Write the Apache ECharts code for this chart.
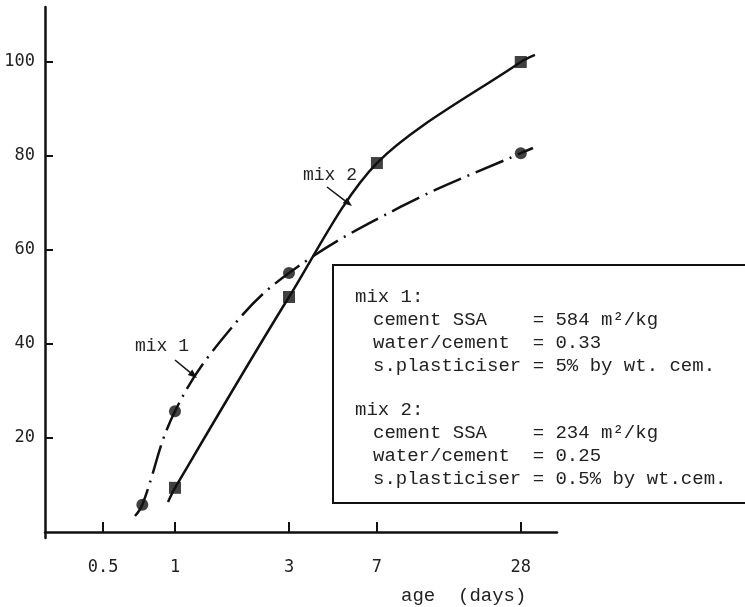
<!DOCTYPE html>
<html>
<head>
<meta charset="utf-8">
<style>
  html, body { margin: 0; padding: 0; background: #fff; }
  #chart { width: 745px; height: 607px; }
</style>
<script src="https://cdn.jsdelivr.net/npm/echarts@6/dist/echarts.min.js"></script>
</head>
<body>
<div id="chart"></div>
<script>
// Tick values
const ageTicks = [0.5, 1, 3, 7, 28];
const strengthTicks = [20, 40, 60, 80, 100];

// Measured points (age in days, relative strength)
const mix1Days = [0.73, 1, 3, 28];
const mix1Strength = [5.8, 25.7, 55.1, 80.6];
const mix2Days = [1, 3, 7, 28];
const mix2Strength = [9.4, 50.0, 78.5, 100];

// Hand-drawn fitted curves through the points
const mix1CurveDays = [0.68, 0.73, 1, 1.67, 3, 8.74, 28, 31.5];
const mix1CurveStrength = [3.4, 5.8, 25.7, 42.6, 55.1, 69.1, 80.6, 81.7];
const mix2CurveDays = [0.935, 1, 3, 7, 28, 32.1];
const mix2CurveStrength = [6.4, 9.4, 50.0, 78.5, 100, 101.5];

// Key text
const mix1Header = 'mix 1:';
const mix2Header = 'mix 2:';
const mix1Lines = ['cement SSA    = 584 m²/kg', 'water/cement  = 0.33', 's.plasticiser = 5% by wt. cem.'];
const mix2Lines = ['cement SSA    = 234 m²/kg', 'water/cement  = 0.25', 's.plasticiser = 0.5% by wt.cem.'];

const ink = '#111';
const mono = '"Liberation Mono", "DejaVu Sans Mono", monospace';
const sansMono = '"DejaVu Sans Mono", monospace';

const zip = (xs, ys) => xs.map((x, i) => [x, ys[i]]);

function arrow(x1, y1, x2, y2) {
  const ang = Math.atan2(y2 - y1, x2 - x1);
  const len = 9, half = 3.5;
  const bx = x2 - len * Math.cos(ang), by = y2 - len * Math.sin(ang);
  const px = -Math.sin(ang) * half, py = Math.cos(ang) * half;
  return [
    { type: 'line', shape: { x1, y1, x2: bx, y2: by }, style: { stroke: ink, lineWidth: 1.5 } },
    { type: 'polygon', shape: { points: [[x2, y2], [bx + px, by + py], [bx - px, by - py]] },
      style: { fill: ink } }
  ];
}

function keyBlock(header, lines, top) {
  const items = [{
    type: 'text', left: 355, top: top - 10,
    style: { text: header, font: '19px ' + mono, fill: '#222' }
  }];
  lines.forEach((line, i) => {
    items.push({
      type: 'text', left: 373, top: top + 23 * (i + 1) - 10,
      style: { text: line, font: '19px ' + mono, fill: '#222' }
    });
  });
  return items;
}

const chart = echarts.init(document.getElementById('chart'));

chart.setOption({
  backgroundColor: '#fff',
  animation: false,
  grid: { left: 45, right: 188, top: 7, bottom: 69 },
  xAxis: {
    type: 'log',
    logBase: 10,
    min: 0.2857,
    max: 39.7,
    axisLine: { lineStyle: { color: ink, width: 2.5 } },
    axisTick: { inside: true, length: 10, customValues: ageTicks, lineStyle: { color: ink, width: 2 } },
    minorTick: { show: false },
    axisLabel: {
      customValues: ageTicks,
      margin: 21,
      color: '#222',
      fontFamily: sansMono,
      fontSize: 17,
      formatter: v => String(v)
    },
    splitLine: { show: false }
  },
  yAxis: {
    type: 'value',
    min: -1.28,
    max: 111.7,
    axisLine: { show: true, lineStyle: { color: ink, width: 2.5 } },
    axisTick: { show: true, inside: true, length: 8, customValues: strengthTicks, lineStyle: { color: ink, width: 2 } },
    axisLabel: {
      customValues: strengthTicks,
      margin: 10,
      color: '#222',
      fontFamily: sansMono,
      fontSize: 17
    },
    splitLine: { show: false }
  },
  series: [
    {
      name: 'mix 1 curve',
      type: 'line',
      data: zip(mix1CurveDays, mix1CurveStrength),
      smooth: 0.4,
      symbol: 'none',
      lineStyle: { color: ink, width: 2.5, type: [30, 7, 2, 7] },
      z: 2
    },
    {
      name: 'mix 2 curve',
      type: 'line',
      data: zip(mix2CurveDays, mix2CurveStrength),
      smooth: 0.3,
      symbol: 'none',
      lineStyle: { color: ink, width: 2.5 },
      z: 2
    },
    {
      name: 'mix 1',
      type: 'scatter',
      data: zip(mix1Days, mix1Strength),
      symbol: 'circle',
      symbolSize: 12,
      itemStyle: { color: ink },
      z: 3
    },
    {
      name: 'mix 2',
      type: 'scatter',
      data: zip(mix2Days, mix2Strength),
      symbol: 'rect',
      symbolSize: 12,
      itemStyle: { color: ink },
      z: 3
    }
  ],
  graphic: [
    { type: 'text', left: 135, top: 337, style: { text: 'mix 1', font: '18px ' + mono, fill: '#222' } },
    { type: 'text', left: 303, top: 166, style: { text: 'mix 2', font: '18px ' + mono, fill: '#222' } },
    ...arrow(175, 360, 197, 378),
    ...arrow(327, 187, 352, 206),
    {
      type: 'rect',
      shape: { x: 333, y: 265, width: 430, height: 238 },
      style: { stroke: ink, lineWidth: 2, fill: 'none' }
    },
    ...keyBlock(mix1Header, mix1Lines, 297),
    ...keyBlock(mix2Header, mix2Lines, 410),
    { type: 'text', left: 401, top: 586, style: { text: 'age  (days)', font: '19px ' + mono, fill: '#222' } }
  ]
});
</script>
</body>
</html>
